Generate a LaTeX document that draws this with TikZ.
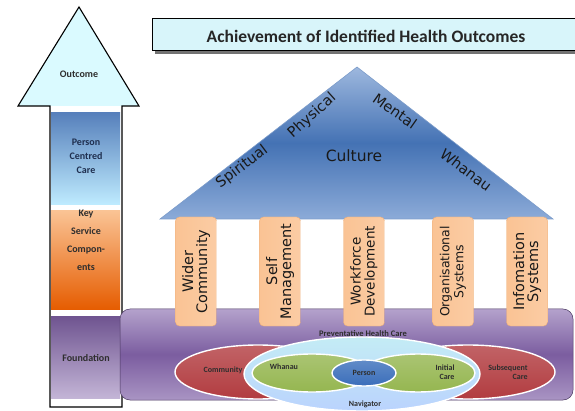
\documentclass[tikz,border=0pt]{standalone}
\usepackage{fontspec}
\setmainfont{Carlito}
\newfontfamily\roofface{DejaVu Sans}

\definecolor{headcyan}{HTML}{D8F5FA}
\definecolor{tipcyan}{HTML}{DAFAFF}
\definecolor{roofblue}{HTML}{4472B4}
\definecolor{rooflight}{HTML}{8CABD8}
\definecolor{peach}{HTML}{FAC394}
\definecolor{peachline}{HTML}{EDAE78}
\definecolor{baselight}{HTML}{B4A2CC}
\definecolor{basedark}{HTML}{7B5DA0}
\definecolor{ringred}{HTML}{B23C40}
\definecolor{ringcyan}{HTML}{C4ECF5}
\definecolor{ringgreen}{HTML}{95B650}
\definecolor{ringblue}{HTML}{3A6EBA}
\definecolor{textgrey}{HTML}{2E2E2E}
\definecolor{navytext}{HTML}{1F2F4F}

\tikzset{
  lbl/.style={font=\bfseries\fontsize{10}{14}\selectfont, text=textgrey, align=center},
  small/.style={font=\bfseries\fontsize{8}{9}\selectfont, text=textgrey, align=center},
  roofword/.style={font=\roofface\fontsize{14.5}{14.5}\selectfont, text=black!90, inner sep=0pt},
  pillar/.style={rounded corners=4pt, draw=peachline, left color=peach, right color=peach!85!white,
    minimum width=109pt, minimum height=41pt, inner sep=0pt, align=center, rotate=90,
    text=black!90},
  ring/.style={draw=white, line width=1.4pt}
}

\begin{document}
\begin{tikzpicture}[x=1pt, y=-1pt]
    \useasboundingbox (0,0) rectangle (575,411);

    % draw the upward arrow
    \fill[tipcyan] (18,106) -- (79,7) -- (139,106) -- cycle;
    \fill[white] (50,106) rectangle (122,407);
    \shade[top color=roofblue!90!white, bottom color=blue!30!cyan!25] (51,113) rectangle (120,205);
    \shade[top color=peach, bottom color=orange!80!red!90!black] (51,211) rectangle (120,310);
    \shade[top color=basedark!90!black, bottom color=baselight!80!white] (51,316) rectangle (120,398);
    \draw[line width=1.1pt] (50,407) -- (50,106) -- (18,106) -- (79,7)
      -- (139,106) -- (122,106) -- (122,407) -- cycle;

    % draw arrow labels
    \node[lbl] (outcome) at (79,74) {Outcome};
    \node[lbl, text=navytext] (pcc) at (86,156) {Person\\Centred\\Care};
    \node[lbl, font=\bfseries\fontsize{10}{18}\selectfont] (ksc) at (86,240) {Key\\Service\\Compon-\\ents};
    \node[lbl] (foundation) at (86,358) {Foundation};

    % draw title banner
    \fill[black!55] (155,22) rectangle (580,54);
    \draw[fill=headcyan, line width=1pt] (152,19) rectangle (580,51);
    \node[font=\bfseries\fontsize{17.5}{18}\selectfont, text=black!85] (title) at (366,36)
      {Achievement of Identified Health Outcomes};

    % draw roof
    \shade[top color=rooflight!85!white, bottom color=rooflight, middle color=roofblue]
      (160,219) -- (357,67) -- (553,219) -- cycle;
    \draw[roofblue!70, line width=0.6pt] (160,219) -- (357,67) -- (553,219) -- cycle;
    \node[roofword, rotate=37] (spiritual) at (242,167) {Spiritual};
    \node[roofword, rotate=42] (physical) at (312,116) {Physical};
    \node[roofword, rotate=-35] (mental) at (395,111) {Mental};
    \node[roofword, rotate=-37] (whanau) at (466,170) {Whanau};
    \node[roofword, font=\roofface\fontsize{15.5}{15.5}\selectfont] (culture) at (354,156) {Culture};

    % draw base platform
    \shade[rounded corners=10pt, top color=baselight, bottom color=baselight!80!basedark, middle color=basedark]
      (120,309) rectangle (573,400);
    \draw[rounded corners=10pt, basedark!60!black, line width=0.5pt] (120,309) rectangle (573,400);

    % draw pillars
    \foreach \x/\fs/\txt [count=\i] in {196/14.5/{Wider\\Community}, 280/14.5/{Self\\Management},
        364/13.5/{Workforce\\Development}, 453/12.5/{Organisational\\Systems}, 527/14.5/{Infomation\\Systems}}
      \node[pillar, font=\roofface\fontsize{\fs}{14}\selectfont] (pillar\i) at (\x,271.5) {\txt};

    \node[small, font=\bfseries\fontsize{8.5}{9}\selectfont] (phc) at (363,334) {Preventative Health Care};

    % draw care ellipses
    \draw[ring, top color=ringred!80!white, bottom color=ringred] (258,372) ellipse [x radius=83, y radius=27];
    \draw[ring, top color=ringred!80!white, bottom color=ringred] (468,372) ellipse [x radius=87, y radius=27];
    \draw[ring, top color=ringcyan, bottom color=ringcyan!70!cyan!60!blue!40] (362,374) ellipse [x radius=118, y radius=37];
    \draw[ring, top color=ringgreen!80!white, bottom color=ringgreen] (312,373) ellipse [x radius=60, y radius=19];
    \draw[ring, top color=ringgreen!80!white, bottom color=ringgreen] (418,373) ellipse [x radius=57, y radius=19];
    \draw[ring, top color=ringblue!80!white, bottom color=ringblue] (364,373) ellipse [x radius=32, y radius=13];

    % draw care labels
    \node[small] (community) at (223,370) {Community};
    \node[small] (whanaucare) at (284,367) {Whanau};
    \node[small] (person) at (364,373) {Person};
    \node[small, align=right] (initial) at (445,372) {Initial\\Care};
    \node[small, align=right] (subsequent) at (508,372) {Subsequent\\Care};
    \node[small] (navigator) at (365,404) {Navigator};
\end{tikzpicture}
\end{document}
